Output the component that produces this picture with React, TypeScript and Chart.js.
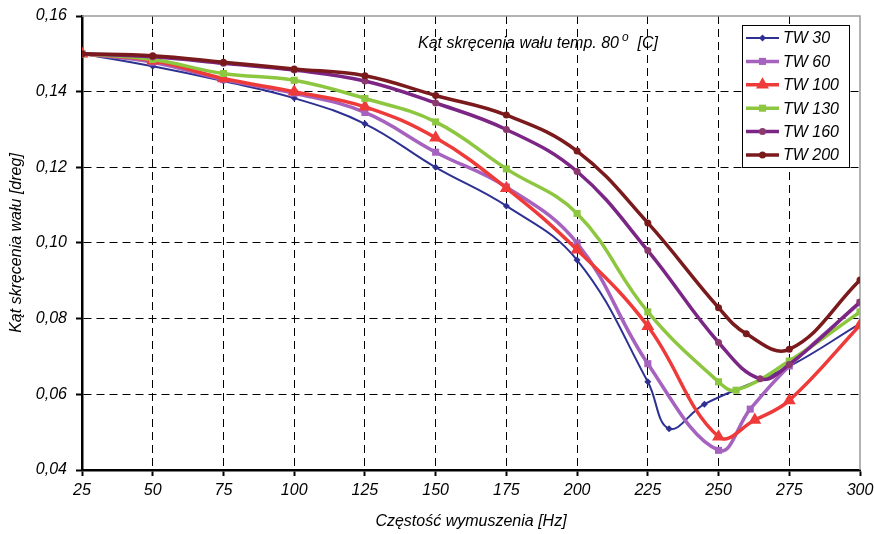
import React, { useEffect, useRef } from 'react';
import { Chart, registerables } from 'chart.js';

Chart.register(...registerables);

// ---- data ----
const seriesNames = ['TW 30', 'TW 60', 'TW 100', 'TW 130', 'TW 160', 'TW 200'];

const tw30Hz = [25, 50, 75, 100, 125, 150, 175, 200, 225, 232.5, 245, 275, 300];
const tw30Val = [0.150, 0.1467, 0.1428, 0.1383, 0.1315, 0.120, 0.1098, 0.0955, 0.0633, 0.0509, 0.0574, 0.0674, 0.0787];

const tw60Hz = [25, 50, 75, 100, 125, 150, 175, 200, 225, 250, 261.2, 275, 300];
const tw60Val = [0.150, 0.1478, 0.1432, 0.1396, 0.1345, 0.124, 0.1148, 0.100, 0.0681, 0.0452, 0.0561, 0.0675, 0.0842];

const tw100Hz = [25, 50, 75, 100, 125, 150, 175, 200, 225, 250, 262.8, 275, 300];
const tw100Val = [0.150, 0.1482, 0.1435, 0.140, 0.136, 0.1278, 0.1145, 0.0982, 0.078, 0.0488, 0.0532, 0.0584, 0.0783];

const tw130Hz = [25, 50, 75, 100, 125, 150, 175, 200, 225, 250, 256.2, 275, 300];
const tw130Val = [0.150, 0.1485, 0.1448, 0.143, 0.1382, 0.132, 0.1196, 0.1078, 0.0818, 0.0633, 0.0611, 0.0688, 0.0818];

const tw160Hz = [25, 50, 75, 100, 125, 150, 175, 200, 225, 250, 264.7, 275, 300];
const tw160Val = [0.150, 0.1492, 0.1475, 0.1457, 0.1428, 0.137, 0.130, 0.1189, 0.098, 0.0737, 0.0641, 0.0679, 0.0844];

const tw200Hz = [25, 50, 75, 100, 125, 150, 175, 200, 225, 250, 259.8, 275, 300];
const tw200Val = [0.150, 0.1495, 0.1478, 0.146, 0.1442, 0.139, 0.1338, 0.1243, 0.1053, 0.0829, 0.076, 0.0719, 0.0902];

const xTicks = [25, 50, 75, 100, 125, 150, 175, 200, 225, 250, 275, 300];
const yTicks = [0.04, 0.06, 0.08, 0.10, 0.12, 0.14, 0.16];

const titleMain = 'Kąt skręcenia wału temp. 80';
const titleSup = 'o';
const titleTail = '  [C]';
const xTitle = 'Częstość wymuszenia [Hz]';
const yTitle = 'Kąt skręcenia wału [dreg]';

// ---- styles ----
const lineColors = ['#2E3192', '#A562BE', '#EF3A3A', '#8DC63F', '#7B2585', '#7A1A1C'];
const markerColors = ['#2E3192', '#A562BE', '#EF3A3A', '#8DC63F', '#8C3A6E', '#7A1A1C'];
const lineWidths = [2, 3.5, 3.5, 3.5, 3.5, 3.5];
const pointStyles = ['rectRot', 'rect', 'triangle', 'rect', 'circle', 'circle'];
const pointRadii = [3.5, 5, 7.5, 5, 3.5, 3.5];

const FONT = "'Liberation Sans', Arial, sans-serif";

const allHz = [tw30Hz, tw60Hz, tw100Hz, tw130Hz, tw160Hz, tw200Hz];
const allVal = [tw30Val, tw60Val, tw100Val, tw130Val, tw160Val, tw200Val];

function drawMarker(ctx: CanvasRenderingContext2D, style: string, x: number, y: number, r: number, color: string) {
  ctx.fillStyle = color;
  ctx.beginPath();
  if (style === 'rectRot') {
    ctx.moveTo(x, y - r); ctx.lineTo(x + r, y); ctx.lineTo(x, y + r); ctx.lineTo(x - r, y); ctx.closePath();
  } else if (style === 'rect') {
    const s = r * Math.SQRT1_2;
    ctx.rect(x - s, y - s, 2 * s, 2 * s);
  } else if (style === 'triangle') {
    let rad = 0;
    ctx.moveTo(x + Math.sin(rad) * r, y - Math.cos(rad) * r);
    rad += (2 * Math.PI) / 3;
    ctx.lineTo(x + Math.sin(rad) * r, y - Math.cos(rad) * r);
    rad += (2 * Math.PI) / 3;
    ctx.lineTo(x + Math.sin(rad) * r, y - Math.cos(rad) * r);
    ctx.closePath();
  } else {
    ctx.arc(x, y, r, 0, Math.PI * 2);
  }
  ctx.fill();
}

const framePlugin = {
  id: 'frame',
  beforeDatasetsDraw(chart: any) {
    const { ctx, chartArea: a } = chart;
    ctx.save();
    ctx.strokeStyle = '#9a9a9a';
    ctx.lineWidth = 1.5;
    ctx.beginPath();
    ctx.moveTo(a.left, a.top);
    ctx.lineTo(a.right, a.top);
    ctx.lineTo(a.right, a.bottom);
    ctx.stroke();
    ctx.restore();
  },
};

const overlayPlugin = {
  id: 'overlay',
  afterDraw(chart: any) {
    const { ctx, chartArea: a } = chart;
    ctx.save();
    // title inside plot
    ctx.fillStyle = '#000';
    ctx.textBaseline = 'alphabetic';
    ctx.textAlign = 'left';
    ctx.font = `italic 16px ${FONT}`;
    let tx = a.left + 336;
    const ty = a.top + 32;
    ctx.fillText(titleMain, tx, ty);
    tx += ctx.measureText(titleMain).width + 3;
    ctx.font = `italic 12px ${FONT}`;
    ctx.fillText(titleSup, tx, ty - 7);
    tx += ctx.measureText(titleSup).width;
    ctx.font = `italic 16px ${FONT}`;
    ctx.fillText(titleTail, tx, ty);

    // legend box
    const bx = a.right - 118;
    const by = a.top + 9;
    const bw = 107;
    const bh = 142;
    ctx.fillStyle = '#fff';
    ctx.fillRect(bx, by, bw, bh);
    ctx.strokeStyle = '#000';
    ctx.lineWidth = 1;
    ctx.strokeRect(bx + 0.5, by + 0.5, bw, bh);
    ctx.font = `italic 16px ${FONT}`;
    ctx.textBaseline = 'middle';
    for (let i = 0; i < seriesNames.length; i++) {
      const cy = by + 13 + i * 23.4;
      ctx.strokeStyle = lineColors[i];
      ctx.lineWidth = lineWidths[i];
      ctx.beginPath();
      ctx.moveTo(bx + 4, cy);
      ctx.lineTo(bx + 37, cy);
      ctx.stroke();
      drawMarker(ctx, pointStyles[i], bx + 20.5, cy, pointRadii[i], markerColors[i]);
      ctx.fillStyle = '#000';
      ctx.fillText(seriesNames[i], bx + 41, cy + 1);
    }
    ctx.restore();
  },
};

export default function App() {
  const ref = useRef<HTMLCanvasElement | null>(null);

  useEffect(() => {
    if (!ref.current) return;
    const datasets = seriesNames.map((name, i) => ({
      label: name,
      data: allHz[i].map((x, j) => ({ x, y: allVal[i][j] })),
      borderColor: lineColors[i],
      backgroundColor: markerColors[i],
      borderWidth: lineWidths[i],
      pointStyle: pointStyles[i],
      pointRadius: pointRadii[i],
      pointBackgroundColor: markerColors[i],
      pointBorderColor: markerColors[i],
      pointBorderWidth: 0,
      tension: 0.4,
      fill: false,
      order: seriesNames.length - i,
    }));

    const chart = new Chart(ref.current, {
      type: 'line',
      data: { datasets },
      plugins: [framePlugin, overlayPlugin],
      options: {
        animation: false,
        responsive: false,
        devicePixelRatio: 1,
        layout: { padding: { top: 16, right: 14, bottom: 0, left: 0 } },
        plugins: {
          legend: { display: false },
          title: { display: false },
          tooltip: { enabled: false },
        },
        scales: {
          x: {
            type: 'linear',
            min: 25,
            max: 300,
            afterFit: (s: any) => { s.height = 64; s.paddingRight = 0; s.paddingLeft = 0; },
            afterBuildTicks: (s: any) => { s.ticks = xTicks.map((v) => ({ value: v })); },
            ticks: {
              color: '#000',
              font: { family: FONT, size: 16, style: 'italic' },
              padding: 5,
              maxRotation: 0,
              autoSkip: false,
            },
            grid: {
              color: (c: any) => (c.tick && c.tick.value === 300 ? 'rgba(0,0,0,0)' : '#000'),
              lineWidth: 1,
              tickLength: 6,
              tickColor: '#000',
              tickWidth: 2,
            },
            border: { color: '#000', width: 2.5, dash: [8, 5] },
            title: {
              display: true,
              text: xTitle,
              color: '#000',
              font: { family: FONT, size: 16, style: 'italic' },
              padding: { top: 0, bottom: 3 },
            },
          },
          y: {
            type: 'linear',
            min: 0.04,
            max: 0.16,
            afterFit: (s: any) => { s.width = 82; s.paddingTop = 0; s.paddingBottom = 0; },
            afterBuildTicks: (s: any) => { s.ticks = yTicks.map((v) => ({ value: v })); },
            ticks: {
              color: '#000',
              font: { family: FONT, size: 16, style: 'italic' },
              padding: 9,
              callback: (v: any) => Number(v).toFixed(2).replace('.', ','),
            },
            grid: {
              color: (c: any) => (c.tick && Math.abs(c.tick.value - 0.16) < 1e-9 ? 'rgba(0,0,0,0)' : '#000'),
              lineWidth: 1,
              tickLength: 6,
              tickColor: '#000',
              tickWidth: 2,
            },
            border: { color: '#000', width: 2.5, dash: [8, 5] },
            title: {
              display: true,
              text: yTitle,
              color: '#000',
              font: { family: FONT, size: 16, style: 'italic' },
              padding: { top: 7, bottom: 0 },
            },
          },
        },
      },
    } as any);
    return () => chart.destroy();
  }, []);

  return (
    <div style={{ position: 'fixed', left: 0, top: 0, width: 874, height: 534, background: '#fff' }}>
      <canvas ref={ref} width={874} height={534} style={{ display: 'block', width: 874, height: 534 }} />
    </div>
  );
}
